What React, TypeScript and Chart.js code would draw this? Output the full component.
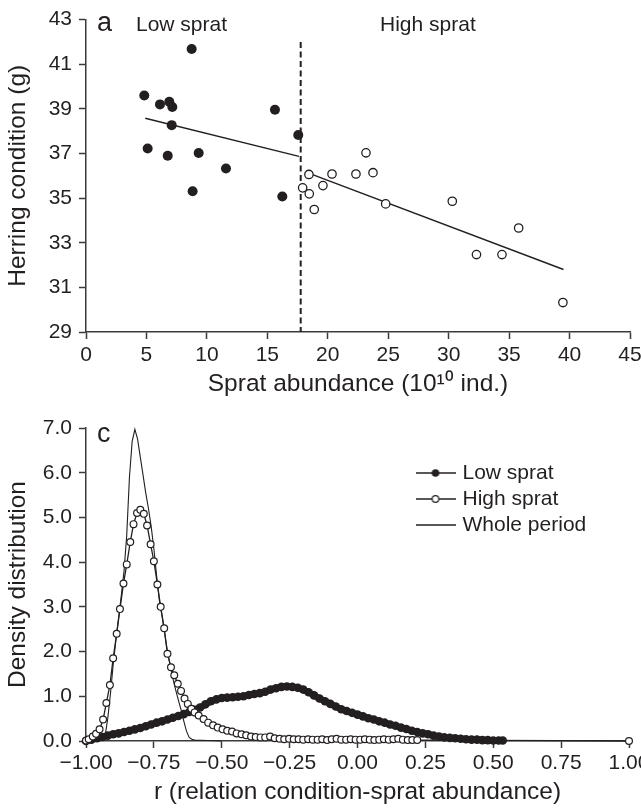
import React, { useEffect, useRef } from 'react';
import { Chart, registerables } from 'chart.js';

Chart.register(...registerables);

const FONT = '"Liberation Sans", Arial, Helvetica, sans-serif';
const INK = '#231f20';
const AXIS = '#3a3a3a';

// ---------- Panel a: herring condition vs sprat abundance ----------
const lowSpratX = [4.82, 5.1, 6.12, 6.89, 7.14, 7.09, 6.76, 8.74, 9.32, 11.58, 8.82, 15.63, 16.24, 17.56];
const lowSpratY = [39.6, 37.22, 39.2, 39.32, 39.08, 38.27, 36.9, 41.68, 37.02, 36.33, 35.31, 38.96, 35.07, 37.83];
const highSpratX = [17.92, 18.47, 18.44, 18.88, 19.6, 20.35, 22.33, 23.16, 23.74, 24.79, 30.3, 32.3, 34.41, 35.79, 39.45];
const highSpratY = [35.46, 35.19, 36.06, 34.49, 35.56, 36.08, 36.08, 37.03, 36.14, 34.74, 34.86, 32.47, 32.47, 33.66, 30.32];
const lowFitX = [4.9, 17.62];
const lowFitY = [38.58, 36.87];
const highFitX = [18.25, 39.5];
const highFitY = [36.15, 31.8];
const splitX = [17.76, 17.76];
const splitY = [42.0, 29];
const aTicksX = [0, 45, 5];
const aTicksY = [29, 43, 2];

// ---------- Panel c: density of r ----------
const lowR = [
  -1.0, -0.98, -0.96, -0.94, -0.92, -0.9, -0.88, -0.86, -0.84, -0.82,
  -0.8, -0.78, -0.76, -0.74, -0.72, -0.7, -0.68, -0.66, -0.64, -0.62,
  -0.6, -0.58, -0.56, -0.54, -0.52, -0.5, -0.48, -0.46, -0.44, -0.42,
  -0.4, -0.38, -0.36, -0.34, -0.32, -0.3, -0.28, -0.26, -0.24, -0.22,
  -0.2, -0.18, -0.16, -0.14, -0.12, -0.1, -0.08, -0.06, -0.04, -0.02,
  0.0, 0.02, 0.04, 0.06, 0.08, 0.1, 0.12, 0.14, 0.16, 0.18,
  0.2, 0.22, 0.24, 0.26, 0.28, 0.3, 0.32, 0.34, 0.36, 0.38,
  0.4, 0.42, 0.44, 0.46, 0.48, 0.5, 0.52, 0.535,
];
const lowD = [
  0.0, 0.03, 0.06, 0.09, 0.12, 0.15, 0.17, 0.2, 0.23, 0.26,
  0.29, 0.33, 0.37, 0.41, 0.44, 0.48, 0.52, 0.56, 0.6, 0.65,
  0.7, 0.75, 0.82, 0.89, 0.93, 0.96, 0.97, 0.98, 0.99, 1.0,
  1.03, 1.05, 1.07, 1.1, 1.15, 1.18, 1.21, 1.22, 1.21, 1.19,
  1.15, 1.09, 1.02, 0.95, 0.89, 0.83, 0.77, 0.71, 0.67, 0.63,
  0.59, 0.55, 0.51, 0.48, 0.44, 0.41, 0.37, 0.34, 0.3, 0.27,
  0.23, 0.2, 0.17, 0.15, 0.12, 0.1, 0.08, 0.07, 0.06, 0.05,
  0.04, 0.03, 0.03, 0.02, 0.02, 0.01, 0.01, 0.01,
];
const highR = [
  -1.0, -0.99, -0.975, -0.963, -0.95, -0.937, -0.925, -0.912, -0.9, -0.887,
  -0.875, -0.862, -0.85, -0.837, -0.825, -0.812, -0.8, -0.787, -0.775, -0.762,
  -0.75, -0.737, -0.725, -0.712, -0.7, -0.687, -0.675, -0.662, -0.65, -0.637,
  -0.625, -0.612, -0.6, -0.585, -0.567, -0.55, -0.532, -0.515, -0.497, -0.48,
  -0.462, -0.445, -0.427, -0.41, -0.392, -0.375, -0.357, -0.34, -0.322, -0.305,
  -0.287, -0.27, -0.252, -0.235, -0.217, -0.2, -0.182, -0.165, -0.147, -0.13,
  -0.112, -0.095, -0.077, -0.06, -0.042, -0.025, -0.007, 0.01, 0.027, 0.045,
  0.062, 0.08, 0.097, 0.115, 0.132, 0.15, 0.167, 0.185, 0.202, 0.22,
  1.0,
];
const highD = [
  0.01, 0.04, 0.1, 0.16, 0.26, 0.48, 0.85, 1.25, 1.85, 2.4,
  2.95, 3.52, 3.95, 4.45, 4.85, 5.1, 5.17, 5.08, 4.82, 4.4,
  4.02, 3.5, 3.0, 2.52, 1.95, 1.65, 1.47, 1.28, 1.12, 0.95,
  0.83, 0.72, 0.64, 0.57, 0.49, 0.41, 0.35, 0.3, 0.26, 0.23,
  0.21, 0.17, 0.15, 0.13, 0.1, 0.09, 0.08, 0.08, 0.1, 0.06,
  0.05, 0.04, 0.05, 0.04, 0.04, 0.03, 0.04, 0.03, 0.03, 0.04,
  0.02, 0.04, 0.05, 0.03, 0.03, 0.04, 0.03, 0.03, 0.04, 0.03,
  0.02, 0.03, 0.04, 0.03, 0.04, 0.05, 0.03, 0.02, 0.02, 0.02,
  0.0,
];
const wholeR = [
  -1.0, -0.95, -0.94, -0.93, -0.92, -0.91, -0.9, -0.89, -0.88, -0.87,
  -0.86, -0.85, -0.84, -0.83, -0.82, -0.81, -0.8, -0.79, -0.78, -0.77,
  -0.76, -0.75, -0.74, -0.73, -0.72, -0.71, -0.7, -0.69, -0.68, -0.67,
  -0.66, -0.65, -0.64, -0.63, -0.62, -0.61, -0.6, -0.55, -0.5,
];
const wholeD = [
  0.0, 0.0, 0.02, 0.1, 0.5, 1.05, 1.7, 2.25, 2.75, 3.25,
  3.8, 4.6, 5.9, 6.7, 6.97, 6.75, 6.35, 5.95, 5.55, 5.2,
  4.8, 4.3, 3.7, 3.15, 2.8, 2.4, 2.0, 1.7, 1.4, 1.15,
  0.92, 0.7, 0.45, 0.22, 0.08, 0.04, 0.02, 0.01, 0.0,
];
const cTicksX = [-1, 1, 0.25];
const cTicksY = [0, 7, 1];
const seriesNames = ['Low sprat', 'High sprat', 'Whole period'];

// text labels inside the panels
const panelAText = [
  { text: 'a', x: 97, y: 31, size: 27 },
  { text: 'Low sprat', x: 136, y: 31, size: 21 },
  { text: 'High sprat', x: 380, y: 31, size: 21 },
];
const panelCText = [{ text: 'c', x: 97, y: 42, size: 27 }];

const pts = (xs: number[], ys: number[]) => xs.map((x, i) => ({ x, y: ys[i] }));

const textPlugin = (items: { text: string; x: number; y: number; size: number }[]) => ({
  id: 'panelText',
  afterDraw(chart: any) {
    const ctx = chart.ctx;
    ctx.save();
    ctx.fillStyle = INK;
    ctx.textAlign = 'left';
    ctx.textBaseline = 'alphabetic';
    for (const t of items) {
      ctx.font = `${t.size}px ${FONT}`;
      ctx.fillText(t.text, t.x, t.y);
    }
    ctx.restore();
  },
});

function axis(
  range: number[],
  title: string,
  opts: { fit: (s: any) => void; fmt?: (v: number) => string; titlePad: any; tickPad: number }
) {
  return {
    type: 'linear',
    min: range[0],
    max: range[1],
    afterFit: opts.fit,
    ticks: {
      stepSize: range[2],
      color: INK,
      padding: opts.tickPad,
      font: { family: FONT, size: 21 },
      autoSkip: false,
      maxRotation: 0,
      callback: opts.fmt ? (v: any) => opts.fmt!(Number(v)) : (v: any) => String(v),
    },
    grid: {
      display: true,
      drawOnChartArea: false,
      drawTicks: true,
      tickLength: 7,
      tickColor: AXIS,
      tickWidth: 1.5,
    },
    border: { display: true, color: AXIS, width: 1.5 },
    title: {
      display: true,
      text: title,
      color: INK,
      font: { family: FONT, size: 24.5 },
      padding: opts.titlePad,
    },
  };
}

function legendIcon(kind: number) {
  const c = document.createElement('canvas');
  c.width = 40;
  c.height = 12;
  const g = c.getContext('2d')!;
  g.strokeStyle = INK;
  g.lineWidth = 1.4;
  g.beginPath();
  g.moveTo(0, 6);
  g.lineTo(40, 6);
  g.stroke();
  if (kind === 0) {
    g.fillStyle = INK;
    g.beginPath();
    g.arc(20, 6, 3.8, 0, Math.PI * 2);
    g.fill();
  } else if (kind === 1) {
    g.fillStyle = '#fff';
    g.lineWidth = 1.2;
    g.beginPath();
    g.arc(20, 6, 3.3, 0, Math.PI * 2);
    g.fill();
    g.stroke();
  }
  return c;
}

export default function App() {
  const topRef = useRef<HTMLCanvasElement>(null);
  const botRef = useRef<HTMLCanvasElement>(null);

  useEffect(() => {
    const top = new Chart(topRef.current!, {
      type: 'scatter',
      data: {
        datasets: [
          {
            label: 'Low sprat',
            data: pts(lowSpratX, lowSpratY),
            pointRadius: 5,
            pointBackgroundColor: INK,
            pointBorderWidth: 0,
            borderColor: INK,
            order: 1,
          },
          {
            label: 'High sprat',
            data: pts(highSpratX, highSpratY),
            pointRadius: 4.2,
            pointBackgroundColor: '#fff',
            pointBorderColor: INK,
            pointBorderWidth: 1.3,
            order: 0,
          },
          {
            label: 'Low fit',
            data: pts(lowFitX, lowFitY),
            showLine: true,
            pointRadius: 0,
            borderColor: INK,
            borderWidth: 1.4,
            order: 3,
          },
          {
            label: 'High fit',
            data: pts(highFitX, highFitY),
            showLine: true,
            pointRadius: 0,
            borderColor: INK,
            borderWidth: 1.4,
            order: 3,
          },
          {
            label: 'Split',
            data: pts(splitX, splitY),
            showLine: true,
            pointRadius: 0,
            borderColor: INK,
            borderWidth: 2,
            borderDash: [6, 3.5],
            order: 4,
          },
        ] as any,
      },
      options: {
        animation: false,
        responsive: false,
        devicePixelRatio: 1,
        layout: { padding: { left: 0, top: 18, right: 50, bottom: 0 } },
        plugins: { legend: { display: false }, tooltip: { enabled: false } },
        scales: {
          x: axis(aTicksX, 'Sprat abundance (10¹⁰ ind.)', {
            fit: (s: any) => { s.height = 68; },
            titlePad: { top: 0, bottom: 1 },
            tickPad: 4,
          }),
          y: axis(aTicksY, 'Herring condition (g)', {
            fit: (s: any) => { s.width = 86; },
            titlePad: { top: 4, bottom: 0 },
            tickPad: 7,
          }),
        } as any,
      },
      plugins: [textPlugin(panelAText)],
    });

    const icons = [legendIcon(0), legendIcon(1), legendIcon(2)];
    const bottom = new Chart(botRef.current!, {
      type: 'scatter',
      data: {
        datasets: [
          {
            label: seriesNames[0],
            data: pts(lowR, lowD),
            showLine: true,
            borderColor: INK,
            borderWidth: 6.5,
            pointRadius: 4.3,
            pointBackgroundColor: INK,
            pointBorderWidth: 0,
            clip: false,
            order: 3,
          },
          {
            label: seriesNames[1],
            data: pts(highR, highD),
            showLine: true,
            borderColor: INK,
            borderWidth: 1.3,
            pointRadius: 3.4,
            pointBackgroundColor: '#fff',
            pointBorderColor: INK,
            pointBorderWidth: 1.2,
            clip: false,
            order: 1,
          },
          {
            label: seriesNames[2],
            data: pts(wholeR, wholeD),
            showLine: true,
            borderColor: INK,
            borderWidth: 1.1,
            pointRadius: 0,
            clip: false,
            order: 2,
          },
        ] as any,
      },
      options: {
        animation: false,
        responsive: false,
        devicePixelRatio: 1,
        layout: { padding: { left: 0, top: 28, right: 51, bottom: 0 } },
        plugins: {
          tooltip: { enabled: false },
          legend: {
            display: true,
            position: 'chartArea',
            align: 'start',
            labels: {
              color: INK,
              font: { family: FONT, size: 21 },
              padding: 5,
              usePointStyle: true,
              pointStyleWidth: 33,
              generateLabels: (chart: any) =>
                chart.data.datasets.map((d: any, i: number) => ({
                  text: d.label,
                  pointStyle: icons[i],
                  fillStyle: INK,
                  strokeStyle: INK,
                  lineWidth: 0,
                  fontColor: INK,
                  hidden: false,
                  datasetIndex: i,
                })),
            },
          },
        } as any,
        scales: {
          x: axis(cTicksX, 'r (relation condition-sprat abundance)', {
            fit: (s: any) => { s.height = 69; },
            fmt: (v: number) => (v < 0 ? '\u2212' : '') + Math.abs(v).toFixed(2),
            titlePad: { top: 0, bottom: 3 },
            tickPad: 3,
          }),
          y: axis(cTicksY, 'Density distribution', {
            fit: (s: any) => { s.width = 86; },
            fmt: (v: number) => v.toFixed(1),
            titlePad: { top: 4, bottom: 0 },
            tickPad: 7,
          }),
        } as any,
      },
      plugins: [
        textPlugin(panelCText),
        {
          id: 'placeLegend',
          beforeDraw(chart: any) {
            const lg = chart.legend;
            if (lg) {
              const w = lg.width;
              const h = lg.height;
              lg.left = 414;
              lg.top = 57.5;
              lg.right = 414 + w;
              lg.bottom = 57.5 + h;
            }
          },
        },
      ],
    });

    return () => {
      top.destroy();
      bottom.destroy();
    };
  }, []);

  return (
    <div
      style={{
        position: 'absolute',
        left: 0,
        top: 0,
        width: 641,
        height: 810,
        overflow: 'hidden',
        background: '#fff',
      }}
    >
      <canvas ref={topRef} width={680} height={400} style={{ position: 'absolute', left: 0, top: 0, width: 680, height: 400 }} />
      <canvas ref={botRef} width={680} height={410} style={{ position: 'absolute', left: 0, top: 400, width: 680, height: 410 }} />
    </div>
  );
}
